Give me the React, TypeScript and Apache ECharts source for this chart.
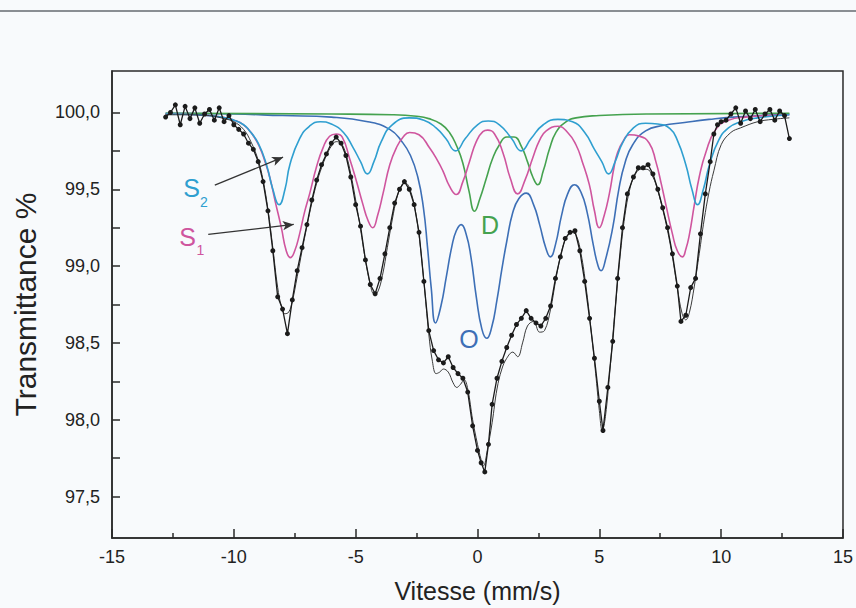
import React, { useEffect, useRef } from "react";
import * as echarts from "echarts";

// ---- axis ticks / labels ----
const xTickValues = [-15, -10, -5, 0, 5, 10, 15];
const yLabelValues = [97.5, 98.0, 98.5, 99.0, 99.5, 100.0];
const yTickValues = [97.5, 97.75, 98.0, 98.25, 98.5, 98.75, 99.0, 99.25, 99.5, 99.75, 100.0];

// ---- measured spectrum (velocity mm/s, transmittance %) ----
const measured: [number, number][] = [
  [-12.8, 99.97], [-12.6, 100.0], [-12.4, 100.05], [-12.2, 99.92], [-12.0, 100.04], [-11.8, 99.96],
  [-11.6, 100.03], [-11.4, 99.93], [-11.2, 99.99], [-11.0, 100.02], [-10.8, 99.95], [-10.6, 100.03],
  [-10.4, 99.94], [-10.2, 99.98], [-10.0, 99.92], [-9.8, 99.89], [-9.6, 99.86], [-9.4, 99.8],
  [-9.2, 99.76], [-9.0, 99.68], [-8.8, 99.55], [-8.6, 99.36], [-8.4, 99.1], [-8.2, 98.8],
  [-8.0, 98.72], [-7.8, 98.56], [-7.6, 98.78], [-7.4, 98.97], [-7.2, 99.12], [-7.0, 99.27],
  [-6.8, 99.43], [-6.6, 99.56], [-6.4, 99.66], [-6.2, 99.73], [-6.0, 99.8], [-5.8, 99.84],
  [-5.6, 99.8], [-5.4, 99.72], [-5.2, 99.58], [-5.0, 99.4], [-4.8, 99.26], [-4.6, 99.04],
  [-4.4, 98.88], [-4.2, 98.82], [-4.0, 98.92], [-3.8, 99.08], [-3.6, 99.25], [-3.4, 99.41],
  [-3.2, 99.5], [-3.0, 99.55], [-2.8, 99.5], [-2.6, 99.4], [-2.4, 99.22], [-2.2, 98.9],
  [-2.0, 98.58], [-1.8, 98.45], [-1.6, 98.39], [-1.4, 98.37], [-1.2, 98.41], [-1.0, 98.34],
  [-0.8, 98.3], [-0.6, 98.27], [-0.4, 98.18], [-0.2, 97.96], [0.0, 97.8], [0.15, 97.72],
  [0.3, 97.66], [0.45, 97.84], [0.6, 98.1], [0.8, 98.27], [1.0, 98.38], [1.2, 98.47],
  [1.4, 98.55], [1.6, 98.62], [1.8, 98.66], [2.0, 98.71], [2.2, 98.66], [2.4, 98.63],
  [2.6, 98.61], [2.8, 98.66], [3.0, 98.74], [3.2, 98.92], [3.4, 99.06], [3.6, 99.18],
  [3.8, 99.22], [4.0, 99.23], [4.2, 99.1], [4.4, 98.9], [4.6, 98.66], [4.8, 98.4],
  [5.0, 98.12], [5.15, 97.93], [5.35, 98.21], [5.55, 98.51], [5.75, 98.92], [5.95, 99.25],
  [6.15, 99.47], [6.4, 99.58], [6.6, 99.64], [6.8, 99.64], [7.0, 99.66], [7.2, 99.6],
  [7.4, 99.5], [7.6, 99.38], [7.8, 99.25], [8.0, 99.08], [8.2, 98.87], [8.35, 98.64],
  [8.55, 98.68], [8.75, 98.86], [8.95, 98.92], [9.15, 99.21], [9.35, 99.47], [9.55, 99.68],
  [9.7, 99.86], [9.85, 99.92], [10.0, 99.94], [10.2, 99.95], [10.4, 99.99], [10.6, 100.03],
  [10.8, 99.93], [11.0, 100.01], [11.2, 99.96], [11.4, 100.02], [11.6, 99.94], [11.8, 99.99],
  [12.0, 100.02], [12.2, 99.95], [12.4, 100.01], [12.6, 99.98], [12.8, 99.83],
];

// ---- total fitted curve ----
const fitTotal: [number, number][] = [
  [-12.8, 99.985], [-12.0, 99.985], [-11.0, 99.98], [-10.4, 99.96], [-10.0, 99.94], [-9.6, 99.89],
  [-9.3, 99.81], [-9.0, 99.69], [-8.8, 99.56], [-8.6, 99.37], [-8.4, 99.12], [-8.2, 98.86],
  [-8.05, 98.74], [-7.9, 98.69], [-7.75, 98.7], [-7.6, 98.77], [-7.4, 98.93], [-7.2, 99.1],
  [-7.0, 99.26], [-6.8, 99.41], [-6.6, 99.54], [-6.4, 99.64], [-6.2, 99.72], [-6.0, 99.78],
  [-5.8, 99.81], [-5.6, 99.8], [-5.4, 99.73], [-5.2, 99.6], [-5.0, 99.43], [-4.8, 99.24],
  [-4.6, 99.04], [-4.4, 98.88], [-4.25, 98.82], [-4.1, 98.83], [-3.9, 98.94], [-3.7, 99.12],
  [-3.5, 99.3], [-3.3, 99.45], [-3.1, 99.53], [-2.95, 99.54], [-2.8, 99.51], [-2.6, 99.4],
  [-2.4, 99.2], [-2.2, 98.9], [-2.0, 98.56], [-1.85, 98.38], [-1.7, 98.3], [-1.55, 98.31],
  [-1.4, 98.33], [-1.2, 98.31], [-1.0, 98.24], [-0.85, 98.21], [-0.7, 98.23], [-0.55, 98.26],
  [-0.4, 98.2], [-0.2, 98.0], [0.0, 97.84], [0.15, 97.74], [0.25, 97.7], [0.4, 97.8],
  [0.6, 97.98], [0.8, 98.2], [1.0, 98.33], [1.2, 98.4], [1.45, 98.44], [1.65, 98.41],
  [1.85, 98.5], [2.05, 98.61], [2.3, 98.64], [2.55, 98.57], [2.75, 98.58], [3.0, 98.72],
  [3.2, 98.9], [3.4, 99.06], [3.6, 99.17], [3.85, 99.22], [4.05, 99.2], [4.25, 99.08],
  [4.45, 98.87], [4.65, 98.6], [4.85, 98.3], [5.0, 98.06], [5.12, 97.93], [5.25, 98.02],
  [5.45, 98.35], [5.65, 98.72], [5.85, 99.06], [6.05, 99.33], [6.25, 99.5], [6.45, 99.59],
  [6.7, 99.63], [6.95, 99.63], [7.2, 99.58], [7.4, 99.49], [7.6, 99.37], [7.8, 99.23],
  [8.0, 99.06], [8.2, 98.86], [8.4, 98.69], [8.55, 98.65], [8.7, 98.7], [8.9, 98.87],
  [9.1, 99.08], [9.3, 99.3], [9.5, 99.48], [9.7, 99.62], [10.0, 99.79], [10.4, 99.87],
  [10.8, 99.9], [11.5, 99.94], [12.1, 99.955], [12.8, 99.965],
];

// ---- sub-spectra ----
const compS2: [number, number][] = [
  [-12.8, 99.99], [-11.5, 99.985], [-10.5, 99.97], [-10.0, 99.95], [-9.6, 99.92], [-9.35, 99.88],
  [-9.0, 99.8], [-8.66, 99.66], [-8.4, 99.5], [-8.14, 99.4], [-7.9, 99.5], [-7.7, 99.66],
  [-7.3, 99.83], [-6.9, 99.91], [-6.45, 99.94], [-6.0, 99.925], [-5.5, 99.87], [-5.1, 99.77],
  [-4.8, 99.68], [-4.52, 99.6], [-4.25, 99.68], [-3.95, 99.81], [-3.5, 99.92], [-2.8, 99.965],
  [-2.2, 99.95], [-1.7, 99.9], [-1.3, 99.83], [-0.9, 99.75], [-0.5, 99.83], [0.0, 99.92],
  [0.44, 99.945], [0.9, 99.92], [1.4, 99.83], [1.79, 99.75], [2.2, 99.83], [2.7, 99.92],
  [3.3, 99.955], [3.9, 99.94], [4.4, 99.87], [4.8, 99.76], [5.1, 99.68], [5.38, 99.6],
  [5.65, 99.68], [5.95, 99.8], [6.4, 99.9], [6.9, 99.93], [7.4, 99.925], [7.9, 99.895],
  [8.2, 99.82], [8.55, 99.66], [8.8, 99.5], [9.03, 99.4], [9.27, 99.5], [9.52, 99.66],
  [9.9, 99.82], [10.3, 99.9], [10.8, 99.94], [11.5, 99.965], [12.8, 99.985],
];

const compS1: [number, number][] = [
  [-12.8, 99.99], [-11.5, 99.985], [-10.5, 99.97], [-10.0, 99.95], [-9.6, 99.92], [-9.25, 99.86],
  [-8.93, 99.77], [-8.72, 99.68], [-8.52, 99.575], [-8.3, 99.42], [-8.05, 99.25], [-7.85, 99.1],
  [-7.68, 99.055], [-7.5, 99.1], [-7.3, 99.21], [-7.1, 99.35], [-6.89, 99.47], [-6.6, 99.65],
  [-6.34, 99.77], [-6.07, 99.845], [-5.8, 99.86], [-5.55, 99.84], [-5.25, 99.7], [-5.0, 99.57],
  [-4.7, 99.4], [-4.5, 99.3], [-4.3, 99.25], [-4.1, 99.33], [-3.88, 99.47], [-3.6, 99.66],
  [-3.33, 99.77], [-3.05, 99.84], [-2.79, 99.87], [-2.4, 99.855], [-1.97, 99.77], [-1.65, 99.69],
  [-1.42, 99.62], [-1.15, 99.52], [-0.87, 99.466], [-0.6, 99.55], [-0.33, 99.68], [-0.05, 99.81],
  [0.22, 99.875], [0.42, 99.885], [0.7, 99.86], [1.04, 99.74], [1.35, 99.57], [1.65, 99.47],
  [1.95, 99.56], [2.27, 99.705], [2.55, 99.82], [2.82, 99.88], [3.3, 99.91], [3.7, 99.87],
  [4.04, 99.79], [4.3, 99.68], [4.59, 99.53], [4.8, 99.36], [5.0, 99.25], [5.2, 99.33],
  [5.41, 99.47], [5.6, 99.64], [5.75, 99.74], [6.0, 99.82], [6.23, 99.855], [6.64, 99.846],
  [7.05, 99.8], [7.32, 99.68], [7.55, 99.53], [7.73, 99.4], [8.0, 99.21], [8.2, 99.1],
  [8.41, 99.06], [8.55, 99.11], [8.69, 99.2], [8.9, 99.4], [9.1, 99.58], [9.37, 99.74],
  [9.78, 99.89], [10.3, 99.95], [11.0, 99.97], [12.8, 99.985],
];

const compD: [number, number][] = [
  [-12.8, 99.995], [-6.0, 99.99], [-3.5, 99.985], [-2.5, 99.975], [-2.0, 99.96], [-1.5, 99.925],
  [-1.15, 99.87], [-0.85, 99.78], [-0.6, 99.67], [-0.35, 99.49], [-0.12, 99.357], [0.1, 99.44],
  [0.36, 99.57], [0.62, 99.7], [0.9, 99.79], [1.2, 99.84], [1.5, 99.84], [1.8, 99.78],
  [2.05, 99.68], [2.27, 99.58], [2.47, 99.53], [2.7, 99.62], [2.95, 99.76], [3.22, 99.87],
  [3.6, 99.935], [4.04, 99.965], [5.0, 99.98], [7.0, 99.99], [12.8, 99.995],
];

const compO: [number, number][] = [
  [-12.8, 99.995], [-10.0, 99.99], [-8.0, 99.98], [-6.0, 99.97], [-4.5, 99.94], [-3.6, 99.89],
  [-3.1, 99.81], [-2.75, 99.72], [-2.45, 99.58], [-2.22, 99.38], [-2.05, 99.12], [-1.9, 98.86],
  [-1.72, 98.63], [-1.5, 98.74], [-1.28, 98.93], [-1.05, 99.13], [-0.87, 99.23], [-0.67, 99.27],
  [-0.47, 99.21], [-0.27, 99.06], [-0.05, 98.8], [0.18, 98.59], [0.38, 98.53], [0.58, 98.6],
  [0.8, 98.78], [1.0, 98.98], [1.2, 99.16], [1.45, 99.35], [1.7, 99.44], [2.0, 99.475],
  [2.3, 99.4], [2.55, 99.27], [2.8, 99.12], [2.99, 99.06], [3.2, 99.14], [3.45, 99.33],
  [3.7, 99.47], [3.98, 99.53], [4.25, 99.48], [4.5, 99.35], [4.75, 99.14], [4.95, 99.0],
  [5.07, 98.97], [5.25, 99.04], [5.55, 99.25], [5.8, 99.5], [6.05, 99.67], [6.37, 99.79],
  [6.9, 99.88], [7.6, 99.915], [8.5, 99.935], [9.5, 99.955], [10.5, 99.97], [12.8, 99.99],
];

// annotation arrows (data coordinates: start -> tip)
const arrowS2: [number, number][] = [[-10.78, 99.527], [-7.98, 99.709]];
const arrowS1: [number, number][] = [[-11.05, 99.206], [-7.54, 99.271]];

const FONT = "'Liberation Sans', Arial, Helvetica, sans-serif";
const C_S1 = "#cf559e";
const C_S2 = "#2f9fd0";
const C_D = "#45a24f";
const C_O = "#3d6fb6";

export default function App() {
  const ref = useRef<HTMLDivElement>(null);
  useEffect(() => {
    if (!ref.current) return;
    const chart = echarts.init(ref.current, null, { renderer: "svg" });
    const compLine = (name: string, data: [number, number][], color: string) => ({
      name,
      type: "line",
      data,
      smooth: 0.5,
      symbol: "none",
      lineStyle: { color, width: 1.6 },
      z: 2,
      silent: true,
    });
    chart.setOption({
      animation: false,
      backgroundColor: "#f8fafc",
      textStyle: { fontFamily: FONT },
      grid: {
        left: 112,
        right: 11,
        top: 71,
        bottom: 70,
        show: true,
        borderColor: "#2a2a2a",
        borderWidth: 1.5,
        backgroundColor: "transparent",
      },
      xAxis: {
        type: "value",
        min: -15,
        max: 15,
        interval: 5,
        name: "Vitesse (mm/s)",
        nameLocation: "middle",
        nameGap: 40,
        nameTextStyle: { fontSize: 25, color: "#222", fontFamily: FONT },
        axisLine: { show: true, onZero: false, lineStyle: { color: "#2a2a2a", width: 1.5 } },
        axisTick: { show: true, inside: true, length: 9, lineStyle: { color: "#2a2a2a", width: 1.5 }, customValues: xTickValues },
        minorTick: { show: true, splitNumber: 2, length: 5, lineStyle: { color: "#2a2a2a", width: 1.5 } },
        axisLabel: { fontSize: 18, color: "#222", margin: 10, fontFamily: FONT, customValues: xTickValues },
        splitLine: { show: false },
        minorSplitLine: { show: false },
      },
      yAxis: {
        type: "value",
        min: 97.23,
        max: 100.27,
        name: "Transmittance %",
        nameLocation: "middle",
        nameRotate: 90,
        nameGap: 72,
        nameTextStyle: { fontSize: 30, color: "#222", fontFamily: FONT, padding: [0, 0, 0, 0] },
        axisLine: { show: true, onZero: false, lineStyle: { color: "#2a2a2a", width: 1.5 } },
        axisTick: { show: true, inside: true, length: 8, lineStyle: { color: "#2a2a2a", width: 1.5 }, customValues: yTickValues },
        axisLabel: {
          fontSize: 18,
          color: "#222",
          margin: 12,
          fontFamily: FONT,
          customValues: yLabelValues,
          formatter: (v: number) => v.toFixed(1).replace(".", ","),
        },
        splitLine: { show: false },
      },
      series: [
        compLine("O", compO, C_O),
        compLine("D", compD, C_D),
        compLine("S1", compS1, C_S1),
        compLine("S2", compS2, C_S2),
        {
          name: "fit",
          type: "line",
          data: fitTotal,
          smooth: 0.4,
          symbol: "none",
          lineStyle: { color: "#3a3a3a", width: 1 },
          z: 3,
          silent: true,
        },
        {
          name: "measured",
          type: "line",
          data: measured,
          symbol: "circle",
          symbolSize: 5,
          itemStyle: { color: "#1b1b1b" },
          lineStyle: { color: "#1b1b1b", width: 1.3 },
          z: 4,
          silent: true,
          markLine: {
            silent: true,
            symbol: ["none", "arrow"],
            symbolSize: [7, 11],
            label: { show: false },
            lineStyle: { color: "#333", width: 1.3, type: "solid" },
            data: [
              [{ coord: arrowS2[0] }, { coord: arrowS2[1] }],
              [{ coord: arrowS1[0] }, { coord: arrowS1[1] }],
            ],
          },
        },
      ],
      graphic: [
        { type: "rect", shape: { x: 0, y: 10, width: 856, height: 2 }, style: { fill: "#8a8e93" }, silent: true },
        { type: "text", x: 191.5, y: 188, style: { text: "S", fill: C_S2, font: `25px ${FONT}`, align: "center", verticalAlign: "middle" } },
        { type: "text", x: 204, y: 202, style: { text: "2", fill: C_S2, font: `14px ${FONT}`, align: "center", verticalAlign: "middle" } },
        { type: "text", x: 187.5, y: 237, style: { text: "S", fill: C_S1, font: `25px ${FONT}`, align: "center", verticalAlign: "middle" } },
        { type: "text", x: 200.5, y: 250, style: { text: "1", fill: C_S1, font: `14px ${FONT}`, align: "center", verticalAlign: "middle" } },
        { type: "text", x: 490, y: 225, style: { text: "D", fill: C_D, font: `25px ${FONT}`, align: "center", verticalAlign: "middle" } },
        { type: "text", x: 469, y: 339, style: { text: "O", fill: C_O, font: `25px ${FONT}`, align: "center", verticalAlign: "middle" } },
      ],
    });
    return () => chart.dispose();
  }, []);
  return <div ref={ref} style={{ position: "fixed", left: 0, top: 0, width: 856, height: 608 }} />;
}
